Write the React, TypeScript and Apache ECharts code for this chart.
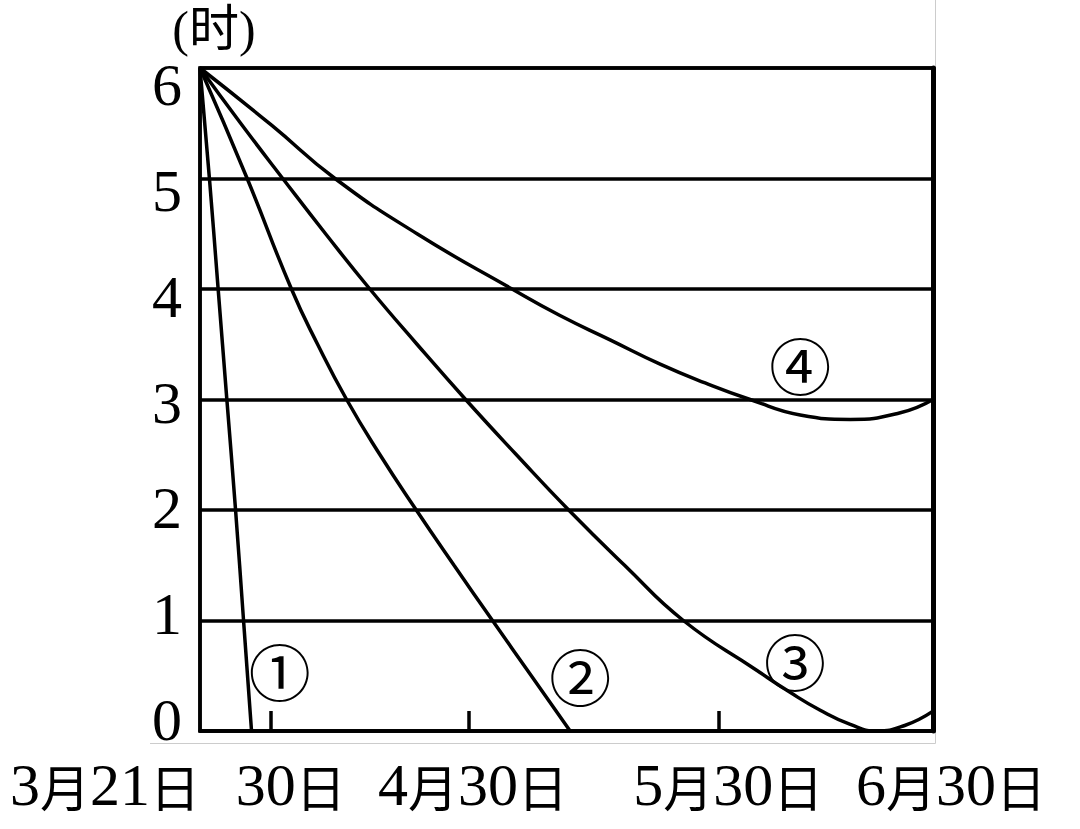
import React, { useEffect, useRef } from "react";
import * as echarts from "echarts";

// x: days after 3月21日 (as drawn), y: hours
const curve1: [number, number][] = [[0, 6], [1.3, 5], [2.5, 4], [3.7, 3], [4.9, 2], [6.0, 1], [7.1, 0]];
const curve2: [number, number][] = [[0, 6], [6.5, 5], [12.6, 4], [16.2, 3.5], [20.2, 3], [24.8, 2.5], [29.8, 2], [35.0, 1.5], [40.3, 1], [45.65, 0.5], [51.0, 0]];
const curve3: [number, number][] = [[0, 6], [5.6, 5.5], [11.4, 5], [17.3, 4.5], [23.4, 4], [29.9, 3.5], [36.6, 3], [43.6, 2.5], [50.8, 2], [58.5, 1.5], [66.6, 1], [76.7, 0.55], [81.3, 0.35], [85.4, 0.19], [89.6, 0.06], [93.2, 0], [97.1, 0.05], [101, 0.18]];
const curve4: [number, number][] = [[0, 6], [9.9, 5.48], [18.6, 5], [29.9, 4.5], [43.0, 4], [49.6, 3.76], [56.5, 3.54], [63.4, 3.32], [69.6, 3.15], [75.8, 3.0], [82.7, 2.86], [89.6, 2.82], [96.5, 2.88], [101, 3.0]];

const curveNames = ["①", "②", "③", "④"];
const curveLabelAt: [number, number][] = [[11.0, 0.55], [52.4, 0.51], [82.0, 0.64], [82.7, 3.32]];

const yTicks = [0, 1, 2, 3, 4, 5, 6];
const xTickDays = [9.8, 37.0, 71.5];
const xLabels = ["3月21日", "30日", "4月30日", "5月30日", "6月30日"];
const xLabelAnchors = [0, 12.5, 37.6, 72.8, 101];
const xLabelShift = [0, 0, 0, 0, 18];
const yUnit = "(时)";

function toRich(s: string, i: number): string {
  let out = "";
  const parts = s.match(/[0-9]+|[^0-9]+/g) || [];
  for (const p of parts) out += /[0-9]/.test(p) ? `{d|${p}}` : `{c|${p}}`;
  const sh = xLabelShift[i];
  if (sh < 0) out = out + `{s${i}| }`;
  if (sh > 0) out = `{s${i}| }` + out;
  return out;
}

export default function App() {
  const ref = useRef<HTMLDivElement>(null);
  useEffect(() => {
    if (!ref.current) return;
    const chart = echarts.init(ref.current, null, { renderer: "svg" });
    const rich: any = {
      d: { fontFamily: "Liberation Serif", fontSize: 60, color: "#000" },
      c: { fontFamily: "Noto Sans CJK SC", fontSize: 50, color: "#000" },
    };
    xLabelShift.forEach((s, i) => {
      if (s !== 0) rich["s" + i] = { width: Math.abs(s) * 2, fontSize: 10 };
    });
    const curves = [curve1, curve2, curve3, curve4];
    chart.setOption({
      animation: false,
      backgroundColor: "#fff",
      grid: { left: 200, right: 147, top: 68, bottom: 98, show: true, borderColor: "#000", borderWidth: 3.5 },
      xAxis: {
        type: "value",
        min: 0,
        max: 101,
        axisLine: { show: true, lineStyle: { color: "#000", width: 3.5 } },
        axisTick: { show: true, inside: true, length: 20, customValues: xTickDays, lineStyle: { color: "#000", width: 3.5 } },
        splitLine: { show: false },
        axisLabel: {
          show: true,
          showMinLabel: true,
          showMaxLabel: true,
          hideOverlap: false,
          customValues: xLabelAnchors,
          margin: 24,
          align: "center",
          alignMinLabel: "right",
          formatter: (v: number) => {
            let idx = 0;
            let best = 1e9;
            xLabelAnchors.forEach((a, i) => {
              if (Math.abs(a - v) < best) { best = Math.abs(a - v); idx = i; }
            });
            return toRich(xLabels[idx], idx);
          },
          rich,
        },
      },
      yAxis: [
        {
          type: "value",
          min: 0,
          max: 6,
          interval: 1,
          position: "left",
          name: yUnit,
          nameLocation: "end",
          nameGap: 14,
          nameTextStyle: { fontFamily: "Liberation Serif, Noto Sans CJK SC", fontSize: 50, color: "#000", align: "center", padding: [0, 0, 0, 28] },
          axisLine: { show: true, lineStyle: { color: "#000", width: 3.5 } },
          axisTick: { show: false },
          axisLabel: { show: false },
          splitLine: { show: true, lineStyle: { color: "#000", width: 3.5 } },
        },
        {
          type: "value",
          min: -0.104,
          max: 6.161,
          position: "left",
          axisLine: { show: false },
          axisTick: { show: false },
          splitLine: { show: false },
          axisLabel: {
            show: true,
            showMinLabel: true,
            showMaxLabel: true,
            customValues: yTicks,
            margin: 33,
            align: "center",
            verticalAlign: "middle",
            fontFamily: "Liberation Serif",
            fontSize: 60,
            color: "#000",
          },
        },
        {
          type: "value",
          min: 0,
          max: 6,
          position: "right",
          axisLine: { show: true, lineStyle: { color: "#000", width: 5 } },
          axisTick: { show: false },
          axisLabel: { show: false },
          splitLine: { show: false },
        },
      ],
      graphic: [
        {
          type: "polyline",
          z: -1,
          shape: { points: [[150, 743.5], [935.5, 743.5], [935.5, 0]] },
          style: { stroke: "#cccccc", lineWidth: 1, fill: null },
        },
      ],
      series: curves.map((c, i) => ({
        type: "line",
        data: c,
        showSymbol: false,
        smooth: 0.5,
        lineStyle: { color: "#000", width: 3.5 },
        z: 3,
        markPoint: {
          symbol: "circle",
          symbolSize: 0,
          data: [{ coord: curveLabelAt[i] }],
          label: {
            show: true,
            position: "inside",
            formatter: curveNames[i],
            fontFamily: "Noto Sans CJK SC",
            fontSize: 62,
            color: "#000",
          },
        },
      })),
    });
    return () => chart.dispose();
  }, []);
  return <div ref={ref} style={{ position: "fixed", left: 0, top: 0, width: 1080, height: 829 }} />;
}
